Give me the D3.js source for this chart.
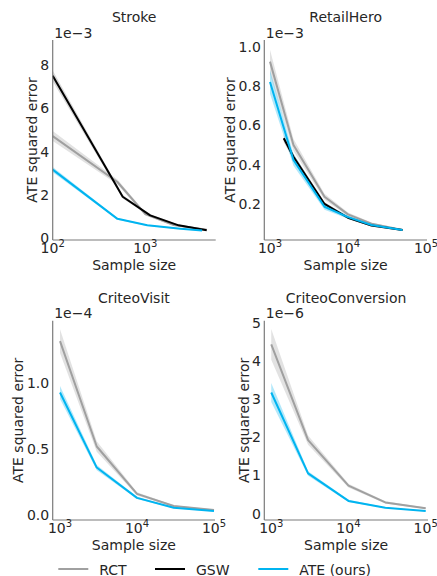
<!DOCTYPE html>
<html>
<head>
<meta charset="utf-8">
<script src="https://cdn.jsdelivr.net/npm/d3@7"></script>
<style>
  html, body { margin: 0; padding: 0; background: #fff; }
  text { font-family: "DejaVu Sans", sans-serif; fill: #262626; }
</style>
</head>
<body>
<svg id="chart" width="437" height="576"></svg>
<script>
// ---------------- DATA ----------------
const methods = ["RCT", "GSW", "ATE (ours)"];
const methodColors = ["#a0a0a0", "#000000", "#00b4f0"];

const panelTitles = ["Stroke", "RetailHero", "CriteoVisit", "CriteoConversion"];
const offsetLabels = ["1e\u22123", "1e\u22123", "1e\u22124", "1e\u22126"];
const yTicksStroke = [0, 2, 4, 6, 8];
const yTicksRetail = [0.2, 0.4, 0.6, 0.8, 1.0];
const yTicksVisit = [0.0, 0.5, 1.0];
const yTicksConv = [0, 1, 2, 3, 4, 5];
const xTicksStroke = [100, 1000];
const xTicksOther = [1000, 10000, 100000];

// Stroke (x1e-3)
const strokeRctX = [100, 500, 1000, 2000, 4600];
const strokeRctY = [4.72, 2.6, 1.12, 0.62, 0.40];
const strokeRctErr = [0.23, 0.12, 0.07, 0.04, 0.03];
const strokeGswX = [100, 570, 1130, 2290, 4600];
const strokeGswY = [7.5, 1.92, 1.06, 0.60, 0.37];
const strokeGswErr = [0.25, 0.08, 0.05, 0.03, 0.02];
const strokeAteX = [100, 500, 1050, 2400, 4100];
const strokeAteY = [3.17, 0.90, 0.60, 0.44, 0.36];
const strokeAteErr = [0.12, 0.04, 0.03, 0.02, 0.02];

// RetailHero (x1e-3)
const retailRctX = [1000, 2000, 5000, 10000, 20000, 50000];
const retailRctY = [0.924, 0.50, 0.237, 0.147, 0.100, 0.068];
const retailRctErr = [0.06, 0.03, 0.015, 0.01, 0.006, 0.004];
const retailGswX = [1500, 2000, 5000, 10000, 20000, 50000];
const retailGswY = [0.534, 0.44, 0.20, 0.13, 0.09, 0.068];
const retailGswErr = [0.02, 0.015, 0.01, 0.006, 0.004, 0.003];
const retailAteX = [1000, 2000, 5000, 10000, 20000, 50000];
const retailAteY = [0.82, 0.424, 0.186, 0.133, 0.093, 0.068];
const retailAteErr = [0.06, 0.03, 0.015, 0.008, 0.005, 0.003];

// CriteoVisit (x1e-4)
const criteoX = [1000, 3000, 10000, 30000, 100000];
const visitRctY = [1.32, 0.52, 0.16, 0.068, 0.038];
const visitRctErr = [0.09, 0.04, 0.012, 0.006, 0.004];
const visitAteY = [0.93, 0.36, 0.13, 0.055, 0.03];
const visitAteErr = [0.05, 0.02, 0.008, 0.004, 0.003];

// CriteoConversion (x1e-6)
const convRctY = [4.43, 1.92, 0.73, 0.29, 0.14];
const convRctErr = [0.4, 0.12, 0.05, 0.03, 0.02];
const convAteY = [3.17, 1.05, 0.33, 0.15, 0.065];
const convAteErr = [0.25, 0.06, 0.03, 0.015, 0.01];

// ---------------- LAYOUT ----------------
const zip = (xs, ys, es) => xs.map((x, i) => ({x, y: ys[i], e: es[i]}));

const panels = [
  {
    title: panelTitles[0], offset: offsetLabels[0],
    box: {l: 52.7, r: 215.7, t: 40, b: 240}, ylabX: 32,
    xdom: [100, Math.pow(10, 3.76)], ydom: [-0.077, 9.155],
    xticks: xTicksStroke, yticks: yTicksStroke, yfmt: d3.format("d"),
    series: [
      {m: 0, pts: zip(strokeRctX, strokeRctY, strokeRctErr)},
      {m: 1, pts: zip(strokeGswX, strokeGswY, strokeGswErr)},
      {m: 2, pts: zip(strokeAteX, strokeAteY, strokeAteErr)}
    ]
  },
  {
    title: panelTitles[1], offset: offsetLabels[1],
    box: {l: 264.3, r: 427, t: 40, b: 240}, ylabX: 230,
    xdom: [Math.pow(10, 2.927), Math.pow(10, 5.013)], ydom: [0.0168, 1.034],
    xticks: xTicksOther, yticks: yTicksRetail, yfmt: d3.format(".1f"),
    series: [
      {m: 0, pts: zip(retailRctX, retailRctY, retailRctErr)},
      {m: 1, pts: zip(retailGswX, retailGswY, retailGswErr)},
      {m: 2, pts: zip(retailAteX, retailAteY, retailAteErr)}
    ]
  },
  {
    title: panelTitles[2], offset: offsetLabels[2],
    box: {l: 52.7, r: 215, t: 320.7, b: 520}, ylabX: 18,
    xdom: [Math.pow(10, 2.905), Math.pow(10, 5.013)], ydom: [-0.038, 1.475],
    xticks: xTicksOther, yticks: yTicksVisit, yfmt: d3.format(".1f"),
    series: [
      {m: 0, pts: zip(criteoX, visitRctY, visitRctErr)},
      {m: 2, pts: zip(criteoX, visitAteY, visitAteErr)}
    ]
  },
  {
    title: panelTitles[3], offset: offsetLabels[3],
    box: {l: 264.3, r: 428, t: 320.7, b: 520}, ylabX: 244,
    xdom: [Math.pow(10, 2.91), Math.pow(10, 5.03)], ydom: [-0.17, 5.05],
    xticks: xTicksOther, yticks: yTicksConv, yfmt: d3.format("d"),
    series: [
      {m: 0, pts: zip(criteoX, convRctY, convRctErr)},
      {m: 2, pts: zip(criteoX, convAteY, convAteErr)}
    ]
  }
];

const svg = d3.select("#chart");
const FS = 14;

panels.forEach(p => {
  const {l, r, t, b} = p.box;
  const x = d3.scaleLog().domain(p.xdom).range([l, r]);
  const y = d3.scaleLinear().domain(p.ydom).range([b, t]);
  const g = svg.append("g");

  // bands + lines
  p.series.forEach(s => {
    const col = methodColors[s.m];
    const area = d3.area().x(d => x(d.x)).y0(d => y(d.y - d.e)).y1(d => y(d.y + d.e));
    g.append("path").datum(s.pts).attr("d", area)
      .attr("fill", col).attr("fill-opacity", s.m === 1 ? 0.15 : 0.3).attr("stroke", "none");
  });
  p.series.forEach(s => {
    const col = methodColors[s.m];
    const line = d3.line().x(d => x(d.x)).y(d => y(d.y));
    g.append("path").datum(s.pts).attr("d", line)
      .attr("fill", "none").attr("stroke", col).attr("stroke-width", 2)
      .attr("stroke-linejoin", "round");
  });

  // spines
  g.append("line").attr("x1", l).attr("x2", l).attr("y1", t).attr("y2", b)
    .attr("stroke", "#7a7a7a").attr("stroke-width", 1.2);
  g.append("line").attr("x1", l).attr("x2", r).attr("y1", b).attr("y2", b)
    .attr("stroke", "#7a7a7a").attr("stroke-width", 1.2);

  // y tick labels
  p.yticks.forEach(v => {
    g.append("text").attr("x", l - 3.5).attr("y", y(v))
      .attr("text-anchor", "end").attr("dominant-baseline", "central")
      .attr("font-size", FS).text(p.yfmt(v));
  });
  // x tick labels (10^k)
  p.xticks.forEach(v => {
    const k = Math.round(Math.log10(v));
    const tx = g.append("text").attr("x", x(v)).attr("y", b + 12.5)
      .attr("text-anchor", "middle").attr("font-size", FS);
    tx.append("tspan").text("10");
    tx.append("tspan").attr("dy", -6).attr("font-size", 10).text(String(k));
  });

  // offset text
  g.append("text").attr("x", l + 1.5).attr("y", t - 2.5)
    .attr("font-size", FS).text(p.offset);
  // title
  g.append("text").attr("x", (l + r) / 2).attr("y", t - 18)
    .attr("text-anchor", "middle").attr("font-size", FS).text(p.title);
  // x label
  g.append("text").attr("x", (l + r) / 2).attr("y", b + 30)
    .attr("text-anchor", "middle").attr("font-size", FS).text("Sample size");
  // y label
  g.append("text").attr("transform", `translate(${p.ylabX},${(t + b) / 2}) rotate(-90)`)
    .attr("text-anchor", "middle").attr("dominant-baseline", "central")
    .attr("font-size", FS).text("ATE squared error");
});

// legend
const legendX = [58.3, 155, 258.3];
const legendY = 569;
methods.forEach((m, i) => {
  svg.append("line").attr("x1", legendX[i]).attr("x2", legendX[i] + 30)
    .attr("y1", legendY).attr("y2", legendY)
    .attr("stroke", methodColors[i]).attr("stroke-width", 2);
  svg.append("text").attr("x", legendX[i] + 41).attr("y", legendY + 5.5)
    .attr("font-size", FS).text(m);
});
</script>
</body>
</html>
